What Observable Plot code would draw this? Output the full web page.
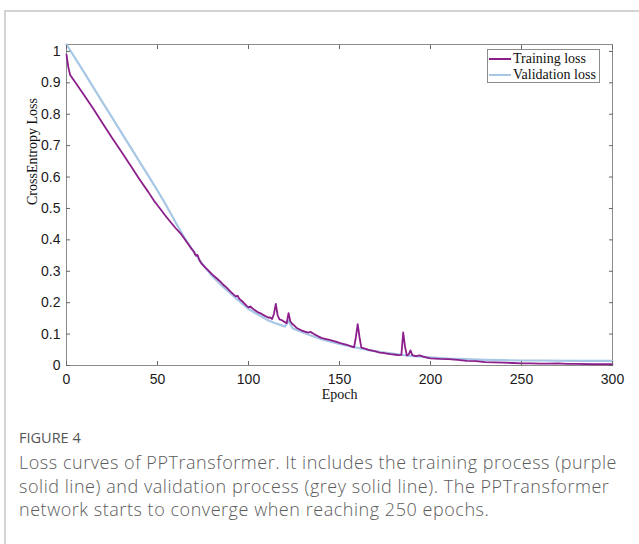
<!DOCTYPE html>
<html>
<head>
<meta charset="utf-8">
<script src="https://cdn.jsdelivr.net/npm/d3@7"></script>
<script src="https://cdn.jsdelivr.net/npm/@observablehq/plot@0.6"></script>
<style>
  html, body { margin: 0; padding: 0; background: #fff; }
  #page { position: relative; width: 639px; height: 544px; overflow: hidden; }
  #box { position: absolute; left: 4px; top: 10px; width: 700px; height: 600px;
         border-left: 2px solid #d4d4d4; border-top: 2px solid #d4d4d4; }
  #chart { position: absolute; left: 0; top: 0; }
  #chart svg { overflow: visible; }
  #legend { position: absolute; left: 487px; top: 49px; width: 113px; height: 34px;
            border: 1px solid #8c8c8c; background: #fff; box-sizing: border-box;
            font-family: "Liberation Serif", serif; font-size: 14px; color: #111; }
  .lg { position: absolute; left: 1px; height: 16px; line-height: 16px; white-space: nowrap; }
  .sw { display: inline-block; width: 22px; height: 0; vertical-align: middle; margin-right: 2px; position: relative; top: -1px; }
  #figlabel { position: absolute; left: 19px; top: 428px; font-family: "Open Sans", sans-serif;
              font-size: 14.5px; color: #555; letter-spacing: 0; }
  #caption { position: absolute; left: 19px; top: 451px; font-family: "Open Sans", sans-serif;
             font-weight: 300; font-size: 18px; letter-spacing: 0.54px; line-height: 23.5px; color: #5c5c5c; white-space: nowrap; }
</style>
</head>
<body>
<div id="page">
  <div id="box"></div>
  <div id="chart"></div>
  <div id="legend"></div>
  <div id="figlabel">FIGURE 4</div>
  <div id="caption"></div>
</div>
<script>
// ---- data ----
const trainEpochs = [0,1,2,5,10,15,20,25,30,35,40,45,48,50,55,60,63,65,68,70,71,72,73,74,76,78,80,82,84,86,88,90,92,93,94,95,97,99,100,101,103,105,107,109,111,112,113,114,115,116,117,118,119,120,121,122,123,124,125,126,127,129,131,133,134,136,138,140,142,144,146,148,150,152,154,156,158,159,160,161,162,164,166,168,170,172,174,176,178,180,182,184,185,186,187,188,189,190,192,194,196,198,200,205,210,215,220,225,230,235,240,245,250,255,260,265,270,275,280,290,300];
const trainLoss = [0.99,0.95,0.925,0.9,0.858,0.815,0.77,0.725,0.682,0.638,0.594,0.552,0.525,0.51,0.472,0.437,0.418,0.402,0.377,0.362,0.35,0.352,0.336,0.326,0.313,0.302,0.29,0.28,0.27,0.258,0.248,0.236,0.225,0.22,0.222,0.212,0.202,0.19,0.185,0.188,0.178,0.17,0.165,0.158,0.152,0.153,0.148,0.165,0.196,0.16,0.147,0.145,0.142,0.138,0.135,0.167,0.14,0.133,0.128,0.122,0.118,0.112,0.108,0.105,0.107,0.1,0.094,0.088,0.085,0.082,0.079,0.076,0.072,0.069,0.066,0.062,0.058,0.09,0.132,0.09,0.057,0.054,0.05,0.047,0.045,0.041,0.04,0.038,0.036,0.035,0.033,0.034,0.105,0.06,0.032,0.035,0.048,0.033,0.03,0.032,0.028,0.025,0.023,0.021,0.02,0.018,0.015,0.014,0.011,0.01,0.009,0.008,0.007,0.007,0.006,0.006,0.007,0.005,0.005,0.004,0.004];

const valEpochs = [0,5,10,15,20,25,30,35,40,45,50,55,60,63,65,70,74,80,85,90,92,95,100,105,110,115,120,122,124,125,130,135,140,145,150,155,160,165,170,175,180,185,190,195,200,210,220,230,240,250,260,280,300];
const valLoss = [1.022,0.976,0.93,0.883,0.836,0.79,0.743,0.697,0.65,0.604,0.557,0.508,0.455,0.425,0.405,0.362,0.328,0.285,0.256,0.23,0.22,0.205,0.18,0.163,0.146,0.134,0.124,0.143,0.12,0.116,0.105,0.094,0.084,0.076,0.069,0.062,0.056,0.05,0.045,0.041,0.037,0.033,0.03,0.028,0.026,0.022,0.02,0.018,0.017,0.016,0.016,0.015,0.015];

const xTicks = [0,50,100,150,200,250,300];
const yTicks = [0,0.1,0.2,0.3,0.4,0.5,0.6,0.7,0.8,0.9,1];
const yTickLabels = ["0","0.1","0.2","0.3","0.4","0.5","0.6","0.7","0.8","0.9","1"];

const seriesNames = ["Training loss","Validation loss"];
const seriesColors = ["#8b1e8b","#a7c7e4"];
const xLabel = "Epoch";
const yLabel = "CrossEntropy Loss";
const captionLines = [
  "Loss curves of PPTransformer. It includes the training process (purple",
  "solid line) and validation process (grey solid line). The PPTransformer",
  "network starts to converge when reaching 250 epochs."
];

// ---- build ----
const train = trainEpochs.map((e, i) => ({epoch: e, loss: trainLoss[i]}));
const val = valEpochs.map((e, i) => ({epoch: e, loss: valLoss[i]}));
const yFmt = d => yTickLabels[yTicks.indexOf(d)] ?? String(d);

const plot = Plot.plot({
  width: 639,
  height: 410,
  marginLeft: 66,
  marginRight: 27,
  marginTop: 44,
  marginBottom: 45,
  style: {fontFamily: "'Liberation Sans', Arial, sans-serif", fontSize: "14px", color: "#1a1a1a", background: "transparent"},
  x: {domain: [0, 300], ticks: xTicks},
  y: {domain: [0, 1.022], ticks: yTicks},
  marks: [
    Plot.frame({stroke: "#8c8c8c", strokeWidth: 1}),
    Plot.line(val, {x: "epoch", y: "loss", stroke: seriesColors[1], strokeWidth: 2.2}),
    Plot.line(train, {x: "epoch", y: "loss", stroke: seriesColors[0], strokeWidth: 1.8}),
    Plot.axisX({anchor: "bottom", ticks: xTicks, tickSize: -4, tickPadding: 13, stroke: "#666", label: null, fontSize: 14}),
    Plot.axisX({anchor: "top", ticks: xTicks, tickSize: -4, tickFormat: () => "", stroke: "#666", label: null}),
    Plot.axisY({anchor: "left", ticks: yTicks, tickSize: -4, tickPadding: 10, tickFormat: yFmt, stroke: "#666", label: null, fontSize: 14}),
    Plot.axisY({anchor: "right", ticks: yTicks, tickSize: -4, tickFormat: () => "", stroke: "#666", label: null}),
    Plot.text([yLabel], {frameAnchor: "left", dx: -34, rotate: -90, fontFamily: "'Liberation Serif', serif", fontSize: 14, fill: "#111"}),
    Plot.text([xLabel], {frameAnchor: "bottom", dy: 33, fontFamily: "'Liberation Serif', serif", fontSize: 14, fill: "#111"})
  ]
});
document.getElementById("chart").appendChild(plot);

// legend
const lg = document.getElementById("legend");
seriesNames.forEach((name, i) => {
  const row = document.createElement("div");
  row.className = "lg";
  row.style.top = (i === 0 ? 1 : 17) + "px";
  const sw = document.createElement("span");
  sw.className = "sw";
  sw.style.borderTop = "2px solid " + seriesColors[i];
  row.appendChild(sw);
  row.appendChild(document.createTextNode(name));
  lg.appendChild(row);
});

// caption
const cap = document.getElementById("caption");
captionLines.forEach((t, i) => {
  if (i) cap.appendChild(document.createElement("br"));
  cap.appendChild(document.createTextNode(t));
});
</script>
</body>
</html>
